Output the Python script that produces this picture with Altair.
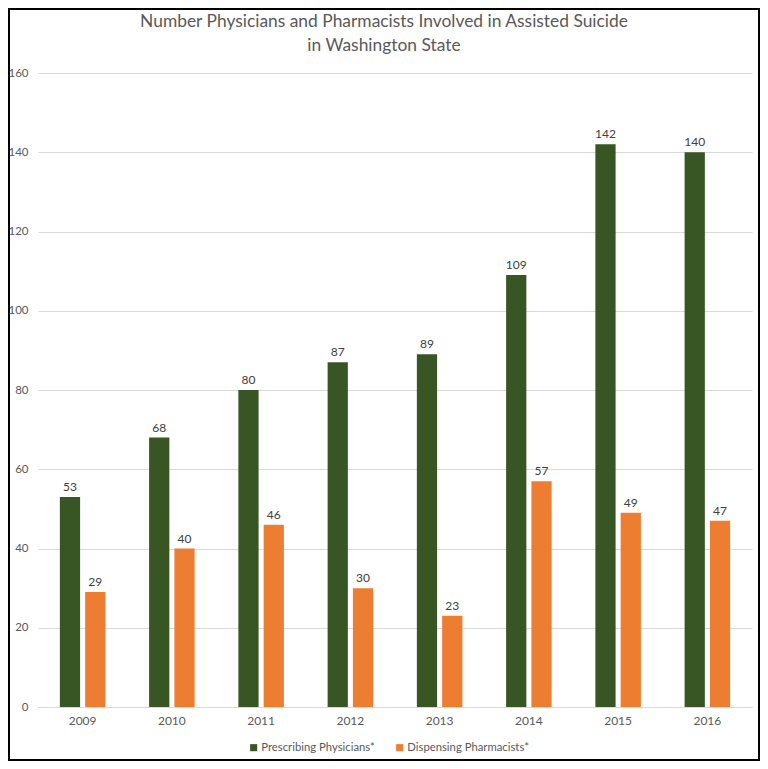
import altair as alt
import pandas as pd

years = ["2009", "2010", "2011", "2012", "2013", "2014", "2015", "2016"]
physicians = [53, 68, 80, 87, 89, 109, 142, 140]
pharmacists = [29, 40, 46, 30, 23, 57, 49, 47]
series = ["Prescribing Physicians*", "Dispensing Pharmacists*"]
colors = ["#375623", "#ED7D31"]
title_lines = ["Number Physicians and Pharmacists Involved in Assisted Suicide",
               "in Washington State"]

rows = []
for i, y in enumerate(years):
    rows.append({"year": y, "series": series[0], "value": physicians[i]})
    rows.append({"year": y, "series": series[1], "value": pharmacists[i]})
df = pd.DataFrame(rows)

W, H = 714, 634
FONT = "Lato"

x = alt.X("year:N", sort=years, title=None,
          scale=alt.Scale(paddingInner=0.49, paddingOuter=0.245),
          axis=alt.Axis(labelAngle=0, labelFontSize=12, labelColor="#595959", labelFont=FONT,
                        ticks=False, domain=True, domainColor="#D9D9D9", labelPadding=8))
xo = alt.XOffset("series:N", sort=series, scale=alt.Scale(paddingInner=0.2))
y = alt.Y("value:Q", title=None,
          scale=alt.Scale(domain=[0, 160], nice=False),
          axis=alt.Axis(values=[0, 20, 40, 60, 80, 100, 120, 140, 160], labelFontSize=11.5,
                        labelColor="#595959", labelFont=FONT, ticks=False, domain=False,
                        gridColor="#D9D9D9", labelPadding=10))

base = alt.Chart(df)
bars = base.mark_bar().encode(
    x=x, xOffset=xo, y=y,
    color=alt.Color("series:N", sort=series,
                    scale=alt.Scale(domain=series, range=colors),
                    legend=alt.Legend(title=None, orient="none", direction="horizontal",
                                      legendX=210, legendY=669, symbolType="square",
                                      symbolSize=50, symbolStrokeWidth=0, labelFontSize=11.3,
                                      labelFont=FONT, labelColor="#595959", columnPadding=19,
                                      labelOffset=2)),
)
labels = base.mark_text(dy=-10, fontSize=12, font=FONT, color="#404040").encode(
    x=x, xOffset=xo, y=y, text="value:Q"
)
title = alt.Chart(pd.DataFrame({"a": [0]})).mark_text(
    text=title_lines, fontSize=17.4, font=FONT, color="#595959",
    align="center", baseline="middle", lineHeight=24
).encode(x=alt.value(346), y=alt.value(-51))
border = alt.Chart(pd.DataFrame({"a": [0]})).mark_rect(
    fillOpacity=0, stroke="black", strokeWidth=2
).encode(x=alt.value(-29), x2=alt.value(W + 7), y=alt.value(-64), y2=alt.value(H + 53))

chart = alt.layer(bars, labels, title, border).properties(
    width=W, height=H,
    autosize=alt.AutoSizeParams(type="none"),
    padding={"left": 30, "top": 65, "right": 8, "bottom": 54},
).configure_view(stroke=None)

chart.save("out.html", embed_options={"renderer": "svg", "actions": False})
